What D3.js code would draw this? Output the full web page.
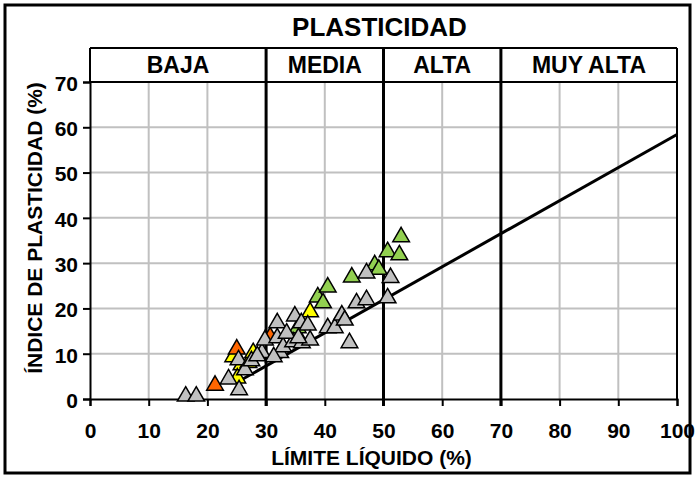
<!DOCTYPE html>
<html>
<head>
<meta charset="utf-8">
<script src="https://cdn.jsdelivr.net/npm/d3@7"></script>
<style>
  body { margin: 0; background: #fff; }
  text { font-family: "Liberation Sans", Arial, sans-serif; font-weight: bold; fill: #000; }
</style>
</head>
<body>
<svg id="chart" width="695" height="480"></svg>
<script>
// --- data (LL %, PI %) ---
var grayPts = [[16.3,0.6],[18.1,0.6],[23.6,4.4],[25.4,2.0],[25.3,8.6],[26.4,6.4],[27.5,8.4],
  [29.3,10.2],[29.8,13.0],[31.9,13.5],[31.9,16.8],[32.4,10.2],[32.9,11.5],[31.3,9.3],
  [34.6,12.6],[34.9,18.3],[36.1,12.4],[36.0,16.8],[37.1,16.3],[37.5,13.0],[40.5,15.7],
  [41.7,15.7],[42.9,18.5],[43.4,17.4],[44.2,12.4],[45.4,21.2],[47.1,21.9],[47.1,27.8],
  [50.7,22.3],[51.2,26.8],[28.5,9.5],[33.5,14.5],[35.5,13.5]];
var greenPts = [[35.4,15.7],[38.8,22.5],[39.7,21.2],[40.5,24.7],[44.6,26.9],[48.5,29.6],
  [49.2,28.6],[50.7,32.5],[52.7,31.8],[53.0,35.8]];
var yellowPts = [[24.4,9.3],[25.8,7.5],[25.1,4.6],[27.0,8.0],[27.8,10.2],[37.5,19.2]];
var orangePts = [[21.3,3.0],[25.0,11.0],[30.7,13.7]];

var series = [
  {name: "verde", color: "#92d050", pts: greenPts},
  {name: "amarillo", color: "#ffff00", pts: yellowPts},
  {name: "naranja", color: "#ff6600", pts: orangePts},
  {name: "gris", color: "#c0c0c0", pts: grayPts}
];

var xTicks = [0,10,20,30,40,50,60,70,80,90,100];
var yTicks = [0,10,20,30,40,50,60,70];
var bounds = [30, 50, 70];            // plasticity class limits
var classes = [{label: "BAJA", from: 0, to: 30}, {label: "MEDIA", from: 30, to: 50},
               {label: "ALTA", from: 50, to: 70}, {label: "MUY ALTA", from: 70, to: 100}];
var aLine = [25.5, 100];              // A-line PI = 0.73 (LL - 20)

var svg = d3.select("#chart");

var x = d3.scaleLinear().domain([0, 100]).range([90, 677]);
var y = d3.scaleLinear().domain([0, 70]).range([399, 82]);
var headTop = 48;

// outer frame
svg.append("rect").attr("x", 5).attr("y", 5).attr("width", 685).attr("height", 468)
  .attr("fill", "none").attr("stroke", "#000").attr("stroke-width", 3);

// grid
svg.append("g").selectAll("line").data(xTicks.filter(d => d > 0 && d < 100 && bounds.indexOf(d) < 0))
  .enter().append("line")
  .attr("x1", d => x(d)).attr("x2", d => x(d)).attr("y1", y(0)).attr("y2", y(70))
  .attr("stroke", "#c0c0c0").attr("stroke-width", 2);
svg.append("g").selectAll("line").data(yTicks.filter(d => d > 0 && d < 70))
  .enter().append("line")
  .attr("x1", x(0)).attr("x2", x(100)).attr("y1", d => y(d)).attr("y2", d => y(d))
  .attr("stroke", "#c0c0c0").attr("stroke-width", 2);

// axes
var xAxis = svg.append("g").attr("transform", "translate(0," + y(0) + ")")
  .call(d3.axisBottom(x).tickValues(xTicks).tickSize(7).tickPadding(8));
var yAxis = svg.append("g").attr("transform", "translate(" + x(0) + ",0)")
  .call(d3.axisLeft(y).tickValues(yTicks).tickSize(7).tickPadding(5));
[xAxis, yAxis].forEach(function(a) {
  a.attr("font-family", null).attr("font-size", null);
  a.select(".domain").attr("stroke-width", 2);
  a.selectAll(".tick line").attr("stroke-width", 2);
  a.selectAll(".tick text").style("font-size", "21px").style("font-weight", "bold");
});
xAxis.selectAll(".tick text").attr("dy", null).attr("y", 39);
yAxis.selectAll(".tick text").attr("dy", "0.4em");

// plot border (right and top)
svg.append("line").attr("x1", x(100)).attr("x2", x(100)).attr("y1", headTop).attr("y2", y(0))
  .attr("stroke", "#000").attr("stroke-width", 2);
svg.append("line").attr("x1", x(0)).attr("x2", x(100)).attr("y1", y(70)).attr("y2", y(70))
  .attr("stroke", "#000").attr("stroke-width", 2);

// header box
svg.append("line").attr("x1", x(0)).attr("x2", x(100)).attr("y1", headTop).attr("y2", headTop)
  .attr("stroke", "#000").attr("stroke-width", 2);
svg.append("line").attr("x1", x(0)).attr("x2", x(0)).attr("y1", headTop).attr("y2", y(70))
  .attr("stroke", "#000").attr("stroke-width", 2);

// class limits
svg.append("g").selectAll("line").data(bounds).enter().append("line")
  .attr("x1", d => x(d)).attr("x2", d => x(d)).attr("y1", headTop).attr("y2", y(0) + 7)
  .attr("stroke", "#000").attr("stroke-width", 3);

svg.append("g").selectAll("text").data(classes).enter().append("text")
  .attr("x", d => x((d.from + d.to) / 2)).attr("y", 73)
  .attr("text-anchor", "middle").style("font-size", "23px").text(d => d.label);

svg.append("text").attr("x", x(50) - 4).attr("y", 36).attr("text-anchor", "middle")
  .style("font-size", "26px").text("PLASTICIDAD");

// A-line
svg.append("line")
  .attr("x1", x(aLine[0])).attr("y1", y(0.73 * (aLine[0] - 20)))
  .attr("x2", x(aLine[1])).attr("y2", y(0.73 * (aLine[1] - 20)))
  .attr("stroke", "#000").attr("stroke-width", 3);

// points
var tri = d3.symbol().type(d3.symbolTriangle).size(120);
series.forEach(function(s) {
  svg.append("g").selectAll("path").data(s.pts).enter().append("path")
    .attr("d", tri)
    .attr("transform", d => "translate(" + x(d[0]) + "," + y(d[1]) + ")")
    .attr("fill", s.color).attr("stroke", "#000").attr("stroke-width", 1.5)
    .attr("stroke-linejoin", "miter");
});

// axis titles
svg.append("text").attr("x", x(50) - 12).attr("y", 465).attr("text-anchor", "middle")
  .style("font-size", "21px").text("LÍMITE LÍQUIDO (%)");
svg.append("text").attr("transform", "translate(42," + 228 + ") rotate(-90)")
  .attr("text-anchor", "middle").style("font-size", "21px").text("ÍNDICE DE PLASTICIDAD (%)");
</script>
</body>
</html>
